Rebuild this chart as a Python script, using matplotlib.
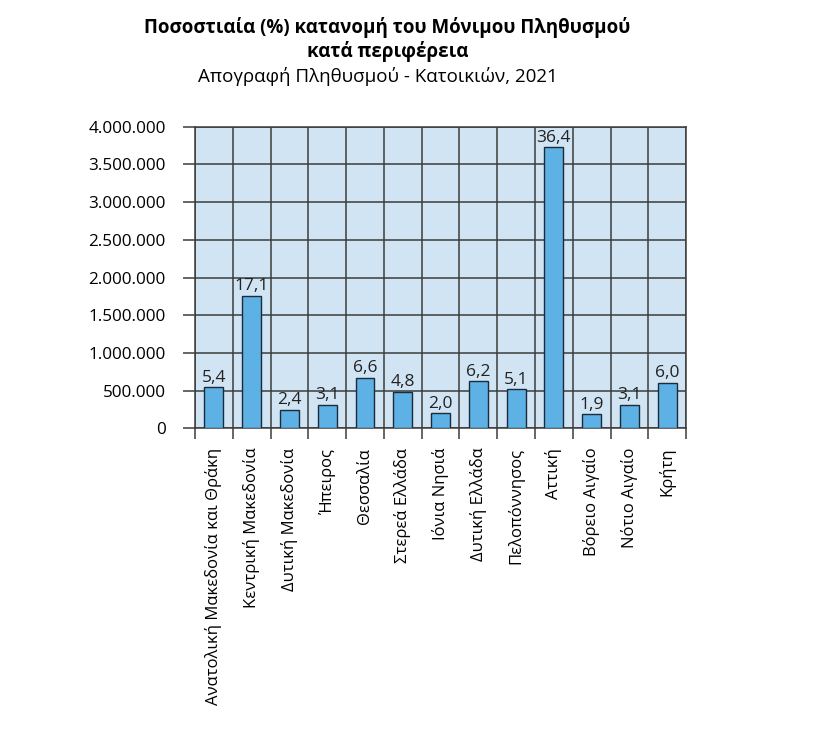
import matplotlib
matplotlib.use('Agg')
import matplotlib.pyplot as plt
import numpy as np
from matplotlib.ticker import FuncFormatter, FixedLocator

regions = ["Ανατολική Μακεδονία και Θράκη", "Κεντρική Μακεδονία", "Δυτική Μακεδονία",
           "Ήπειρος", "Θεσσαλία", "Στερεά Ελλάδα", "Ιόνια Νησιά", "Δυτική Ελλάδα",
           "Πελοπόννησος", "Αττική", "Βόρειο Αιγαίο", "Νότιο Αιγαίο", "Κρήτη"]
population = [544000, 1755000, 243000, 309000, 671000, 485000, 199000,
              627000, 521000, 3727000, 186000, 313000, 605000]
percent = [5.4, 17.1, 2.4, 3.1, 6.6, 4.8, 2.0, 6.2, 5.1, 36.4, 1.9, 3.1, 6.0]
yticks = [0, 500000, 1000000, 1500000, 2000000, 2500000, 3000000, 3500000, 4000000]

plt.rcParams['font.family'] = ['Open Sans', 'DejaVu Sans']

grid_col = '#3c3c3c'
fig = plt.figure(figsize=(8.14, 7.3), dpi=100)
ax = fig.add_axes([0.2396, 0.4133, 0.6032, 0.4131])
ax.set_facecolor('#d0e4f4')

x = np.arange(len(regions))
ax.bar(x, population, width=0.5, color='#5db1e5', edgecolor='#1c2a3a', linewidth=1.0, zorder=3)
for xi, p, v in zip(x, population, percent):
    ax.text(xi, p + 20000, ("%.1f" % v).replace('.', ','), ha='center', va='bottom',
            fontsize=12.5, color='#222222', zorder=4)

ax.set_xlim(-0.5, len(regions) - 0.5)
ax.set_ylim(0, 4000000)
ax.set_yticks(yticks)
ax.yaxis.set_major_formatter(FuncFormatter(lambda v, _: '{:,.0f}'.format(v).replace(',', '.')))
ax.set_xticks(x)
ax.set_xticklabels(regions, rotation=90, fontsize=12, va='top')
ax.xaxis.set_minor_locator(FixedLocator(np.arange(-0.5, len(regions), 1.0)))

ax.tick_params(axis='x', which='major', length=0, pad=14)
ax.tick_params(axis='x', which='minor', length=8, width=1.1, color=grid_col)
ax.tick_params(axis='y', which='major', length=9, width=1.1, color=grid_col, labelsize=12.3, pad=12)

ax.grid(True, axis='y', which='major', color=grid_col, linewidth=1.1, zorder=1)
ax.grid(True, axis='x', which='minor', color=grid_col, linewidth=1.1, zorder=1)
ax.set_axisbelow(True)
for s in ax.spines.values():
    s.set_color(grid_col)
    s.set_linewidth(1.1)

fig.text(0.476, 0.963, "Ποσοστιαία (%) κατανομή του Μόνιμου Πληθυσμού", ha='center', va='center',
         fontsize=13.5, fontweight='bold')
fig.text(0.476, 0.929, "κατά περιφέρεια", ha='center', va='center', fontsize=13.5, fontweight='bold')
fig.text(0.4644, 0.895, "Απογραφή Πληθυσμού - Κατοικιών, 2021", ha='center', va='center', fontsize=13.5)

fig.savefig('out.png', dpi=100)
